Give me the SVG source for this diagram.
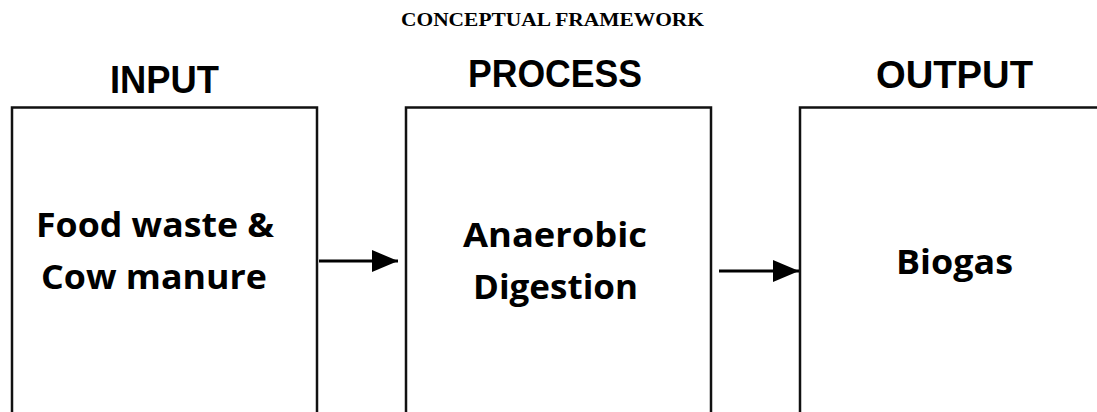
<svg xmlns="http://www.w3.org/2000/svg" width="1097" height="412" viewBox="0 0 1097 412">
  <style>
    .box { fill: #ffffff; stroke: #111111; stroke-width: 2.5; }
    .title { font-family: "Liberation Serif", serif; font-weight: bold; font-size: 19.5px; fill: #000; }
    .head { font-family: "Liberation Sans", Arial, sans-serif; font-weight: bold; font-size: 38px; fill: #000; }
    .body { font-family: "Open Sans", "Noto Sans", sans-serif; font-weight: 700; font-size: 34px; fill: #000; }
    .conn { stroke: #000; stroke-width: 3.2; fill: none; }
  </style>
  <defs>
    <marker id="arrow" markerUnits="userSpaceOnUse" markerWidth="26" markerHeight="22" refX="26" refY="11" orient="auto">
      <polygon points="0,0 26,11 0,22" fill="#000"/>
    </marker>
  </defs>
  <rect width="1097" height="412" fill="#ffffff"/>
  <text class="title" x="552.5" y="26" text-anchor="middle" textLength="303" lengthAdjust="spacingAndGlyphs">CONCEPTUAL FRAMEWORK</text>

  <g id="node-input">
    <text class="head" x="164.5" y="93" text-anchor="middle" textLength="109" lengthAdjust="spacingAndGlyphs">INPUT</text>
    <rect class="box" x="12" y="107.5" width="305" height="330"/>
    <text class="body" x="155" y="237" text-anchor="middle" textLength="238" lengthAdjust="spacingAndGlyphs">Food waste &amp;</text>
    <text class="body" x="154" y="289" text-anchor="middle" textLength="226" lengthAdjust="spacingAndGlyphs">Cow manure</text>
  </g>

  <g id="node-process">
    <text class="head" x="555" y="87" text-anchor="middle" textLength="174" lengthAdjust="spacingAndGlyphs">PROCESS</text>
    <rect class="box" x="406" y="107.5" width="305" height="330"/>
    <text class="body" x="555" y="247" text-anchor="middle" textLength="184" lengthAdjust="spacingAndGlyphs">Anaerobic</text>
    <text class="body" x="555.5" y="299" text-anchor="middle" textLength="165" lengthAdjust="spacingAndGlyphs">Digestion</text>
  </g>

  <g id="node-output">
    <text class="head" x="954.5" y="88" text-anchor="middle" textLength="157" lengthAdjust="spacingAndGlyphs">OUTPUT</text>
    <rect class="box" x="800" y="107.5" width="330" height="330"/>
    <text class="body" x="954.5" y="274" text-anchor="middle" textLength="117" lengthAdjust="spacingAndGlyphs">Biogas</text>
  </g>

  <g id="connectors">
    <line class="conn" x1="319" y1="261" x2="398" y2="261" marker-end="url(#arrow)"/>
    <line class="conn" x1="719" y1="271" x2="799" y2="271" marker-end="url(#arrow)"/>
  </g>
</svg>
